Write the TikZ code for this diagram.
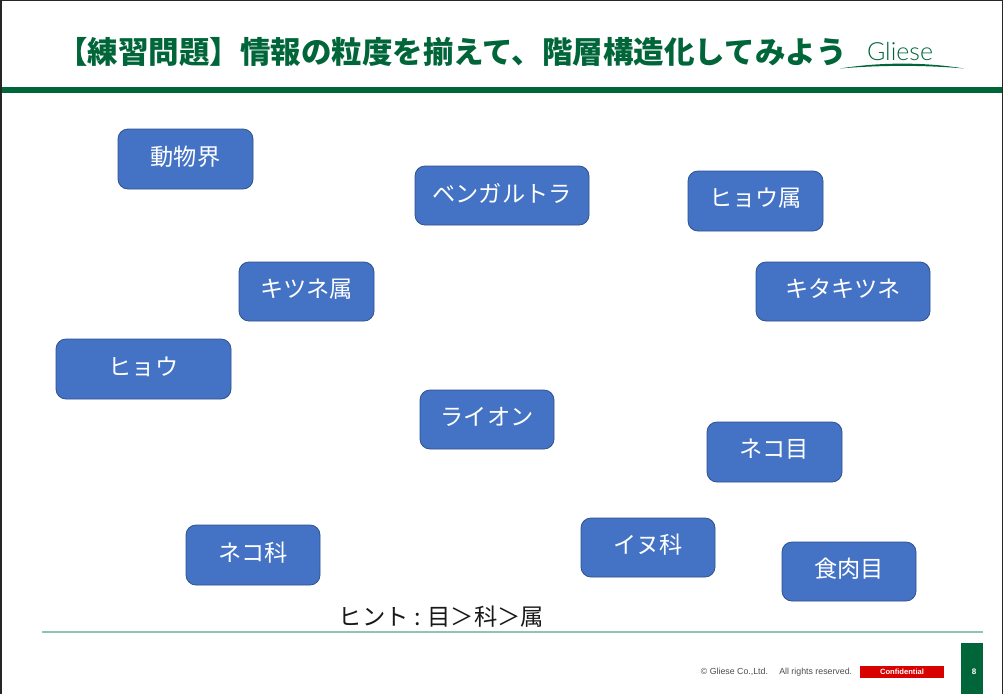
\documentclass[tikz,border=0pt]{standalone}
\usepackage{fontspec}
\setmainfont{Liberation Sans}
\newfontfamily\cjk{Noto Sans CJK JP}
\newfontfamily\logofont{Lato Light}
\definecolor{gl}{HTML}{00663A}
\definecolor{boxfill}{HTML}{4472C4}
\definecolor{boxline}{HTML}{2F528F}
\definecolor{foot}{HTML}{8FC4AE}
\tikzset{
  card/.style={draw=boxline,fill=boxfill,line width=0.8pt,rounded corners=10pt,inner sep=0pt},
  lab/.style={text=white,inner sep=0pt,font=\cjk\fontsize{23.2}{26}\selectfont},
}
\newcommand{\cardat}[7]{%
  \node[card,minimum width=#3 pt,minimum height=#4 pt] (#5) at (#1,#2) {};
  \node[lab] (#6) at ([yshift=2.5pt]#5.center) {#7};}
\begin{document}
\begin{tikzpicture}[x=1pt,y=-1pt]
\useasboundingbox (0,0) rectangle (1003,694);
\fill[white] (0,0) rectangle (1003,694);
\fill[black!85] (0,0) rectangle (1003,1);
\fill[black!85] (0,0) rectangle (2,694);
\fill[black!85] (1002,0) rectangle (1003,694);
\node[inner sep=0pt,anchor=center,text=gl,font=\cjk\bfseries\fontsize{30.5}{34}\selectfont] (title) at (452,52) {【練習問題】情報の粒度を揃えて、階層構造化してみよう};
\fill[gl] (2,87) rectangle (1002,93);
\node[inner sep=0pt,text=gl,font=\logofont\fontsize{25}{28}\selectfont] (logo) at (900,52) {Gliese};
\fill[gl] (840,68.5) .. controls (880,62) and (925,62) .. (964,68.5) .. controls (925,65) and (880,65) .. (840,68.5) -- cycle;
\cardat{185.5}{159}{135}{60}{a}{at}{動物界}
\cardat{502}{195.5}{174}{59}{b}{bt}{ベンガルトラ}
\cardat{755.5}{201}{135}{60}{c}{ct}{ヒョウ属}
\cardat{306.5}{291.5}{135}{59}{d}{dt}{キツネ属}
\cardat{843}{291.5}{174}{59}{e}{et}{キタキツネ}
\cardat{143.5}{369}{175}{60}{f}{ft}{ヒョウ}
\cardat{487}{419.5}{134}{59}{g}{gt}{ライオン}
\cardat{774.5}{452}{135}{60}{h}{ht}{ネコ目}
\cardat{253}{555}{134}{60}{i}{it}{ネコ科}
\cardat{648}{547.5}{134}{59}{j}{jt}{イヌ科}
\cardat{849}{571.5}{134}{59}{k}{kt}{食肉目}
\node[inner sep=0pt,text=black!90,font=\cjk\fontsize{23.3}{26}\selectfont] (hint) at (441.5,617) {ヒント : 目＞科＞属};
\fill[foot] (42,631) rectangle (983,633);
\node[inner sep=0pt,text=black!70,font=\fontsize{8.8}{10}\selectfont] (copy) at (776.5,672) {© Gliese Co.,Ltd.\hspace{8pt} All rights reserved.};
\node[fill=red!85!black,minimum width=84pt,minimum height=12pt,inner sep=0pt,text=white,font=\bfseries\fontsize{7.6}{9}\selectfont] (conf) at (902,672) {Confidential};
\node[fill=gl,minimum width=22pt,minimum height=51pt,inner sep=0pt] (page) at (972,668.5) {};
\node[inner sep=0pt,text=white,font=\bfseries\fontsize{8}{9}\selectfont] (pagenum) at (974,672) {8};
\end{tikzpicture}
\end{document}
